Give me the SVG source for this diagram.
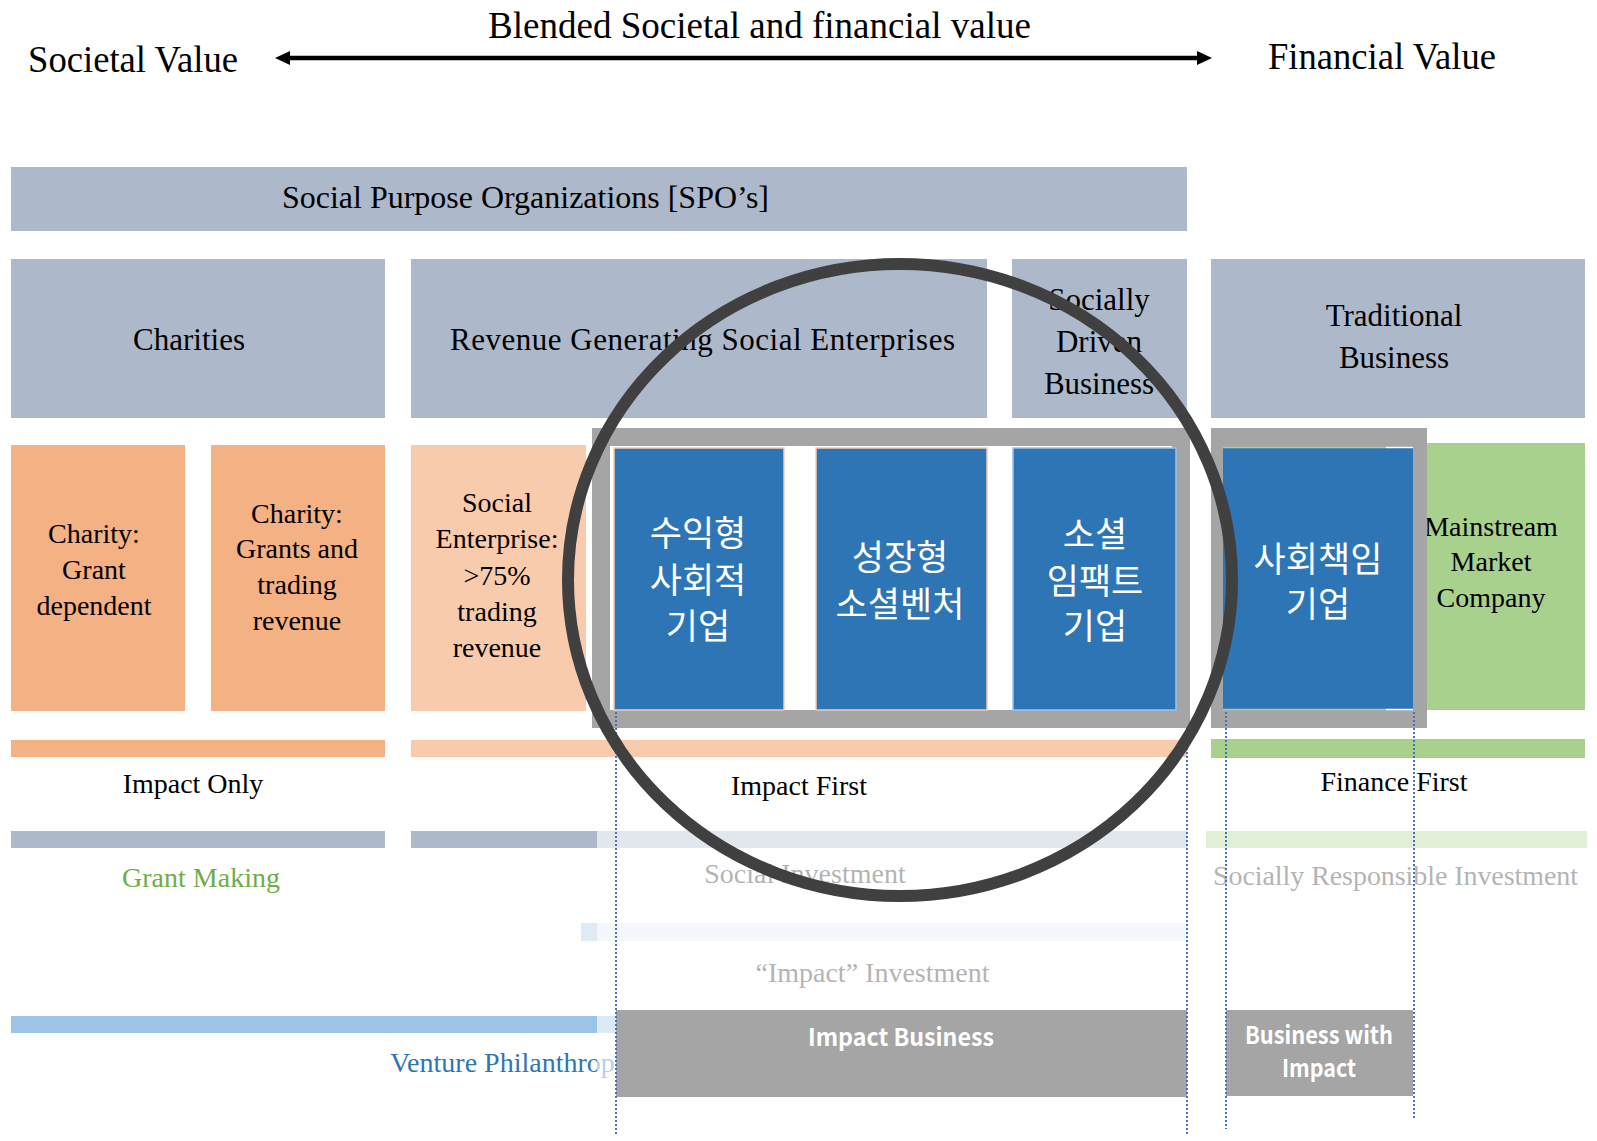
<svg xmlns="http://www.w3.org/2000/svg" width="1597" height="1141" viewBox="0 0 1597 1141">
<style>
  .sf{font-family:"Liberation Serif","Times New Roman",serif;fill:#000}
  .s37{font-size:37px}
  .s31{font-size:31px}
  .s28{font-size:28px}
  .m{text-anchor:middle}
  .kr{font-family:"Noto Sans CJK KR","Noto Sans",sans-serif;font-size:35px;fill:#fff;text-anchor:middle}
  .kb{font-family:"Noto Sans CJK KR","Open Sans",sans-serif;font-weight:700;font-size:24px;fill:#fff;text-anchor:middle}
  .gb{fill:#ADB9CA}
  .or{fill:#F4B183}
  .lor{fill:#F8CBAD}
  .blue{fill:#2E75B6}
  .grn{fill:#A9D18E}
  .gry{fill:#A5A5A5}
  .fade{fill:#262626}
  .dot{stroke:#4472C4;stroke-width:2;stroke-dasharray:2 2;fill:none}
</style>
<defs>
  <marker id="ah" markerUnits="userSpaceOnUse" markerWidth="16" markerHeight="16" refX="2" refY="7" orient="auto-start-reverse" viewBox="0 0 16 14">
    <path d="M0,0 L15,7 L0,14 Z" fill="#000"/>
  </marker>
</defs>
<rect width="1597" height="1141" fill="#fff"/>

<!-- header -->
<g id="header">
  <text class="sf s37 m" x="759.5" y="38" textLength="543" lengthAdjust="spacingAndGlyphs">Blended Societal and financial value</text>
  <text class="sf s37" x="28" y="72" textLength="210" lengthAdjust="spacingAndGlyphs">Societal Value</text>
  <text class="sf s37" x="1268" y="69" textLength="228" lengthAdjust="spacingAndGlyphs">Financial Value</text>
</g>

<g id="connectors">
  <line x1="288" y1="58" x2="1199" y2="58" stroke="#000" stroke-width="4.5" marker-start="url(#ah)" marker-end="url(#ah)"/>
</g>

<!-- SPO bar -->
<g id="spo">
  <rect class="gb" x="11" y="167" width="1176" height="64"/>
  <text class="sf m" style="font-size:32px" x="525.5" y="208" textLength="487" lengthAdjust="spacingAndGlyphs">Social Purpose Organizations [SPO’s]</text>
</g>

<!-- Row 2 -->
<g id="charities">
  <rect class="gb" x="11" y="259" width="374" height="159"/>
  <text class="sf s31 m" x="189" y="350">Charities</text>
</g>
<g id="revenue-generating">
  <rect class="gb" x="411" y="259" width="576" height="159"/>
  <text class="sf s31" x="450" y="350" textLength="505" lengthAdjust="spacing">Revenue Generating Social Enterprises</text>
</g>
<g id="socially-driven">
  <rect class="gb" x="1012" y="259" width="175" height="159"/>
  <text class="sf s31 m" x="1099" y="310">Socially</text>
  <text class="sf s31 m" x="1099" y="352">Driven</text>
  <text class="sf s31 m" x="1099" y="394">Business</text>
</g>
<g id="traditional">
  <rect class="gb" x="1211" y="259" width="374" height="159"/>
  <text class="sf s31 m" x="1394" y="326">Traditional</text>
  <text class="sf s31 m" x="1394" y="368">Business</text>
</g>

<!-- Row 3 -->
<g id="charity-grant">
  <rect class="or" x="11" y="445" width="174" height="266"/>
  <text class="sf s28 m" x="94" y="543">Charity:</text>
  <text class="sf s28 m" x="94" y="579">Grant</text>
  <text class="sf s28 m" x="94" y="615">dependent</text>
</g>
<g id="charity-grants-trading">
  <rect class="or" x="211" y="445" width="174" height="266"/>
  <text class="sf s28 m" x="297" y="523">Charity:</text>
  <text class="sf s28 m" x="297" y="558">Grants and</text>
  <text class="sf s28 m" x="297" y="594">trading</text>
  <text class="sf s28 m" x="297" y="630">revenue</text>
</g>
<g id="social-enterprise">
  <rect class="lor" x="411" y="445" width="175" height="266"/>
  <text class="sf s28 m" x="497" y="512">Social</text>
  <text class="sf s28 m" x="497" y="548">Enterprise:</text>
  <text class="sf s28 m" x="497" y="585">&gt;75%</text>
  <text class="sf s28 m" x="497" y="621">trading</text>
  <text class="sf s28 m" x="497" y="657">revenue</text>
</g>
<g id="mainstream">
  <rect class="grn" x="1398" y="443" width="187" height="267"/>
  <text class="sf s28 m" x="1491" y="536">Mainstream</text>
  <text class="sf s28 m" x="1491" y="571">Market</text>
  <text class="sf s28 m" x="1491" y="607">Company</text>
</g>
<g id="impact-frame">
  <rect x="601" y="437" width="580" height="282" fill="none" stroke="#A5A5A5" stroke-width="18"/>
</g>
<g id="csr-frame">
  <rect class="gry" x="1211" y="428" width="216" height="300"/>
</g>
<g id="revenue-social">
  <rect class="blue" x="614" y="448" width="170" height="262" stroke="#F8CBAD" stroke-width="1.5"/>
  <text class="kr" x="698" y="546">수익형</text>
  <text class="kr" x="698" y="593">사회적</text>
  <text class="kr" x="698" y="639">기업</text>
</g>
<g id="growth-venture">
  <rect class="blue" x="816" y="448" width="171" height="262" stroke="#F8CBAD" stroke-width="1.5"/>
  <text class="kr" x="900" y="570">성장형</text>
  <text class="kr" x="900" y="617">소셜벤처</text>
</g>
<g id="social-impact">
  <rect class="blue" x="1013" y="448" width="163" height="262" stroke="#9DC3E6" stroke-width="1.5"/>
  <text class="kr" x="1095" y="547">소셜</text>
  <text class="kr" x="1095" y="594">임팩트</text>
  <text class="kr" x="1095" y="639">기업</text>
</g>
<g id="csr-company">
  <rect class="blue" x="1223" y="447" width="190" height="263"/>
  <line x1="1223" y1="447.5" x2="1386" y2="447.5" stroke="#A9D18E" stroke-width="1.5"/>
  <line x1="1386" y1="447.5" x2="1413" y2="447.5" stroke="#fff" stroke-width="1.5"/>
  <line x1="1223" y1="709.5" x2="1386" y2="709.5" stroke="#A9D18E" stroke-width="1.5"/>
  <line x1="1386" y1="709.5" x2="1413" y2="709.5" stroke="#fff" stroke-width="1.5"/>
  <text class="kr" x="1318" y="572">사회책임</text>
  <text class="kr" x="1318" y="617">기업</text>
</g>

<!-- Row 4 -->
<g id="impact-only">
  <rect class="or" x="11" y="740" width="374" height="17"/>
  <text class="sf s28 m" x="193" y="793">Impact Only</text>
</g>
<g id="impact-first">
  <rect class="lor" x="411" y="740" width="776" height="17"/>
  <text class="sf s28 m" x="799" y="795">Impact First</text>
</g>
<g id="finance-first">
  <rect class="grn" x="1211" y="739" width="374" height="19"/>
  <text class="sf s28 m" x="1394" y="791">Finance First</text>
</g>

<!-- Row 5-7 -->
<g id="grant-making">
  <rect class="gb" x="11" y="831" width="374" height="17"/>
  <text class="m" style="font-family:'Liberation Serif',serif;font-size:28px;fill:#70AD47" x="201" y="887">Grant Making</text>
</g>
<g id="social-investment">
  <rect class="gb" x="411" y="831" width="776" height="17"/>
  <text class="sf s28 m fade" x="805" y="883">Social Investment</text>
</g>
<g id="sri">
  <rect class="grn" x="1206" y="831" width="381" height="17"/>
  <text class="sf s28 m fade" x="1395.5" y="885" textLength="365" lengthAdjust="spacing">Socially Responsible Investment</text>
</g>
<g id="impact-investment">
  <rect x="581" y="923" width="606" height="18" fill="#DEEBF7"/>
  <text class="sf s28 m fade" x="872.5" y="982">“Impact” Investment</text>
</g>
<g id="venture-philanthropy">
  <rect x="11" y="1016" width="605" height="17" fill="#9DC3E6"/>
  <text style="font-family:'Liberation Serif',serif;font-size:28px;fill:#2E75B6" x="390" y="1072">Venture Philanthropy</text>
</g>

<!-- fade overlay -->
<rect x="597" y="822" width="993" height="291" fill="#fff" fill-opacity="0.65"/>

<g id="impact-business">
  <rect class="gry" x="616" y="1010" width="571" height="87"/>
  <text class="kb" x="901" y="1046" textLength="186" lengthAdjust="spacingAndGlyphs">Impact Business</text>
</g>
<g id="business-with-impact">
  <rect class="gry" x="1226" y="1010" width="187" height="86"/>
  <text class="kb" x="1319" y="1044" textLength="148" lengthAdjust="spacingAndGlyphs">Business with</text>
  <text class="kb" x="1319" y="1077" textLength="74" lengthAdjust="spacingAndGlyphs">Impact</text>
</g>

<g id="guides">
  <line class="dot" x1="616" y1="712" x2="616" y2="1136"/>
  <line class="dot" x1="1187" y1="728" x2="1187" y2="1136"/>
  <line class="dot" x1="1226" y1="712" x2="1226" y2="1129"/>
  <line class="dot" x1="1414" y1="712" x2="1414" y2="1119"/>
</g>

<g id="highlight-circle">
  <ellipse cx="900" cy="580" rx="332" ry="316" fill="none" stroke="#404040" stroke-width="12"/>
</g>
</svg>
